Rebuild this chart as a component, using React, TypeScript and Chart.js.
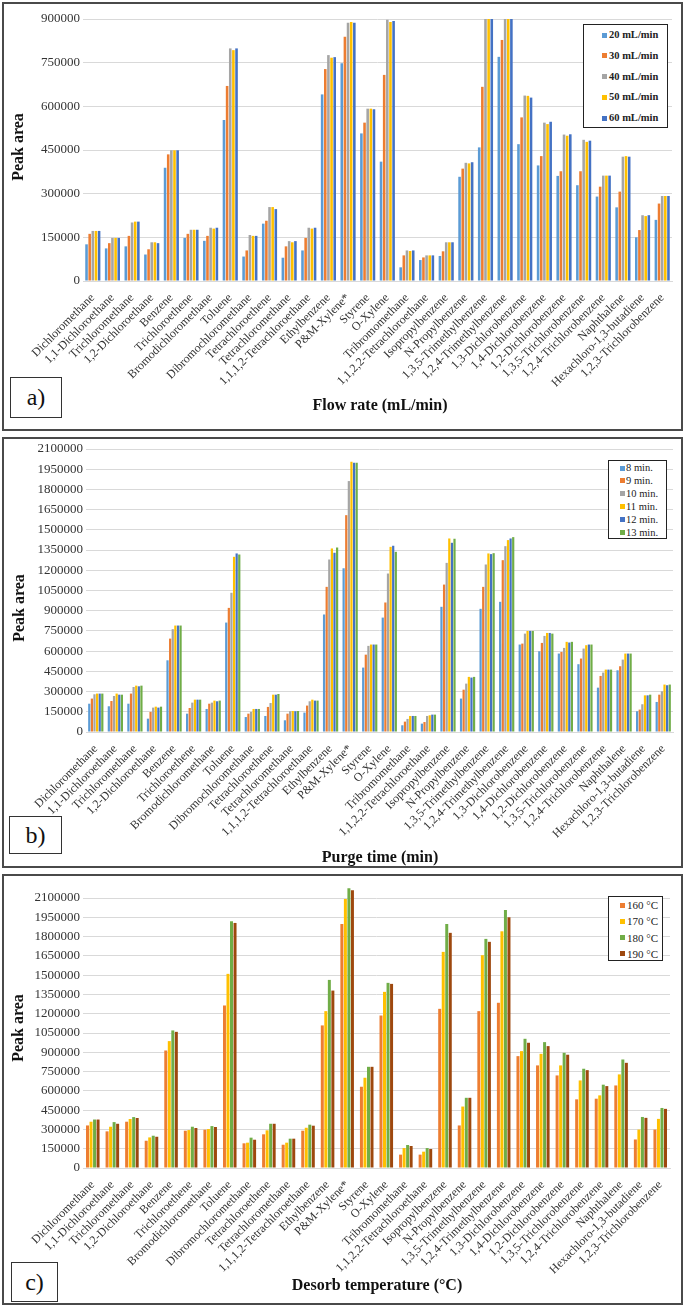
import React, { useEffect, useRef } from 'react';
import { Chart, registerables } from 'chart.js';
Chart.register(...registerables);

const FONT = "'Liberation Serif', 'Times New Roman', serif";

const compounds = [
  'Dichloromethane', '1,1-Dichloroethane', 'Trichloromethane', '1,2-Dichloroethane', 'Benzene',
  'Trichloroethene', 'Bromodichloromethane', 'Toluene', 'Dibromochloromethane', 'Tetrachloroethene',
  'Tetrachloromethane', '1,1,1,2-Tetrachloroethane', 'Ethylbenzene', 'P&M-Xylene*', 'Styrene',
  'O-Xylene', 'Tribromomethane', '1,1,2,2-Tetrachloroethane', 'Isopropylbenzene', 'N-Propylbenzene',
  '1,3,5-Trimethylbenzene', '1,2,4-Trimethylbenzene', '1,3-Dichlorobenzene', '1,4-Dichlorobenzene',
  '1,2-Dichlorobenzene', '1,3,5-Trichlorobenzene', '1,2,4-Trichlorobenzene', 'Naphthalene',
  'Hexachloro-1,3-butadiene', '1,2,3-Trichlorobenzene',
];

// Panel a) flow rate
const flowLabels = ['20 mL/min', '30 mL/min', '40 mL/min', '50 mL/min', '60 mL/min'];
const flow20 = [126000,112000,119000,91000,389000,148000,138000,553000,84000,197000,80000,105000,641000,748000,507000,410000,47000,72000,86000,358000,459000,770000,470000,397000,361000,329000,290000,253000,150000,210000];
const flow30 = [162000,130000,155000,109000,435000,162000,155000,670000,105000,207000,119000,148000,728000,839000,544000,708000,88000,81000,102000,386000,667000,828000,562000,429000,377000,377000,324000,307000,175000,266000];
const flow40 = [172000,148000,201000,133000,449000,176000,183000,799000,158000,254000,137000,183000,776000,887000,592000,897000,105000,88000,133000,406000,900000,900000,637000,544000,503000,485000,362000,427000,226000,292000];
const flow50 = [172000,148000,204000,133000,449000,176000,180000,793000,155000,254000,133000,180000,767000,890000,592000,890000,103000,88000,133000,404000,900000,900000,636000,539000,499000,478000,362000,429000,223000,292000];
const flow60 = [172000,148000,204000,130000,449000,176000,183000,799000,155000,247000,137000,183000,769000,887000,590000,893000,105000,88000,133000,408000,900000,900000,630000,547000,504000,482000,362000,427000,226000,292000];
const flowColors = ['#5B9BD5', '#ED7D31', '#A5A5A5', '#FFC000', '#4472C4'];
const flowTicksMax = 900000;

// Panel b) purge time
const purgeLabels = ['8 min.', '9 min.', '10 min.', '11 min.', '12 min.', '13 min.'];
const purge8 = [210000,191000,210000,99000,532000,136000,171000,812000,111000,119000,87000,144000,872000,1215000,478000,849000,50000,62000,929000,248000,914000,966000,649000,599000,582000,503000,329000,458000,154000,223000];
const purge9 = [248000,230000,285000,149000,693000,178000,210000,921000,136000,186000,136000,196000,1077000,1609000,574000,961000,77000,74000,1094000,314000,1077000,1275000,656000,661000,594000,545000,416000,488000,166000,277000];
const purge10 = [280000,267000,334000,181000,763000,218000,218000,1033000,149000,215000,154000,228000,1280000,1862000,639000,1176000,97000,119000,1255000,359000,1243000,1379000,730000,713000,624000,619000,441000,537000,206000,302000];
const purge11 = [285000,285000,344000,188000,790000,240000,233000,1300000,171000,277000,156000,240000,1362000,2006000,649000,1374000,119000,124000,1436000,409000,1325000,1424000,750000,735000,669000,644000,463000,582000,272000,352000];
const purge12 = [285000,277000,339000,181000,790000,240000,228000,1325000,171000,277000,154000,233000,1330000,1998000,649000,1382000,119000,129000,1404000,404000,1320000,1436000,750000,735000,664000,649000,463000,582000,272000,347000];
const purge13 = [285000,277000,344000,188000,790000,240000,233000,1317000,171000,282000,156000,233000,1369000,1998000,649000,1337000,119000,129000,1434000,409000,1327000,1446000,750000,730000,669000,649000,463000,582000,277000,352000];
const purgeColors = ['#5B9BD5', '#ED7D31', '#A5A5A5', '#FFC000', '#4472C4', '#70AD47'];
const purgeTicksMax = 2100000;

// Panel c) desorb temperature
const tempLabels = ['160 °C', '170 °C', '180 °C', '190 °C'];
const temp160 = [331000,285000,360000,212000,914000,290000,298000,1264000,192000,262000,181000,290000,1109000,1898000,632000,1186000,104000,104000,1238000,331000,1220000,1285000,870000,798000,720000,534000,539000,642000,222000,299000];
const temp170 = [360000,321000,381000,238000,987000,295000,303000,1510000,197000,293000,197000,313000,1220000,2093000,702000,1370000,155000,127000,1681000,478000,1655000,1841000,909000,888000,798000,681000,565000,728000,299000,382000];
const temp180 = [377000,357000,396000,251000,1070000,321000,326000,1919000,236000,344000,228000,337000,1463000,2175000,787000,1440000,179000,155000,1898000,546000,1782000,2007000,1005000,979000,896000,772000,648000,844000,397000,467000];
const temp190 = [377000,344000,389000,243000,1059000,311000,319000,1906000,220000,344000,228000,329000,1380000,2160000,787000,1432000,171000,148000,1829000,546000,1759000,1950000,974000,948000,881000,761000,637000,818000,390000,460000];
const tempColors = ['#ED7D31', '#FFC000', '#70AD47', '#9E480E'];
const tempTicksMax = 2100000;

const tickStep = 150000;

type PanelCfg = {
  top: number; height: number;
  areaTop: number; areaBottom: number; areaLeft: number; areaRight: number;
  ymax: number; labels: string[]; colors: string[]; series: number[][];
  catPct: number; barPct: number; clip: boolean;
};

function ChartPanel({ cfg }: { cfg: PanelCfg }) {
  const ref = useRef<HTMLCanvasElement | null>(null);
  useEffect(() => {
    const canvas = ref.current;
    if (!canvas) return;
    const W = 685;
    const chart = new Chart(canvas, {
      type: 'bar',
      data: {
        labels: compounds,
        datasets: cfg.series.map((s, i) => ({
          label: cfg.labels[i],
          data: s,
          backgroundColor: cfg.colors[i],
          borderWidth: 0,
          categoryPercentage: cfg.catPct,
          barPercentage: cfg.barPct,
          clip: cfg.clip ? undefined : false,
        })) as any,
      },
      options: {
        responsive: false,
        animation: false,
        devicePixelRatio: 1,
        layout: { padding: { top: cfg.areaTop, right: W - cfg.areaRight, left: 0, bottom: 0 } },
        plugins: { legend: { display: false }, tooltip: { enabled: false }, title: { display: false } },
        scales: {
          x: {
            grid: { display: false },
            border: { display: true, color: '#d9d9d9' },
            ticks: {
              autoSkip: false, maxRotation: 45, minRotation: 45, padding: 2,
              font: { family: FONT, size: 12 }, color: '#333',
            },
            afterFit: (s: any) => { s.height = cfg.height - cfg.areaBottom; },
          },
          y: {
            min: 0, max: cfg.ymax,
            grid: { color: '#d9d9d9', drawTicks: false },
            border: { display: false },
            ticks: {
              stepSize: tickStep, padding: 3,
              font: { family: FONT, size: 13 }, color: '#333',
              callback: (v: any) => String(v),
            },
            afterFit: (s: any) => { s.width = cfg.areaLeft; },
          },
        },
      } as any,
    });
    return () => chart.destroy();
  }, [cfg]);
  return (
    <canvas ref={ref} width={685} height={cfg.height}
      style={{ position: 'absolute', left: 0, top: cfg.top, width: 685, height: cfg.height }} />
  );
}

function Legend({ left, top, width, height, firstY, step, swatchX, textX, fontSize, bold, labels, colors }: any) {
  return (
    <div style={{ position: 'absolute', left, top, width, height, border: '1.5px solid #222', boxSizing: 'border-box', background: '#fff' }}>
      {labels.map((l: string, i: number) => (
        <React.Fragment key={l}>
          <div style={{ position: 'absolute', left: swatchX, top: firstY + i * step - 2.5, width: 5, height: 5, background: colors[i] }} />
          <div style={{ position: 'absolute', left: textX, top: firstY + i * step, transform: 'translateY(-50%)', fontSize, fontWeight: bold ? 'bold' : 'normal', fontFamily: FONT, color: '#222', whiteSpace: 'nowrap', lineHeight: 1 }}>{l}</div>
        </React.Fragment>
      ))}
    </div>
  );
}

function Text({ x, y, rot, size, bold, children }: any) {
  return (
    <div style={{ position: 'absolute', left: x, top: y, transform: `translate(-50%,-50%)${rot ? ' rotate(-90deg)' : ''}`, fontFamily: FONT, fontSize: size, fontWeight: bold ? 'bold' : 'normal', whiteSpace: 'nowrap', color: '#111', lineHeight: 1 }}>{children}</div>
  );
}

function Tag({ left, top, width, height, children }: any) {
  return (
    <div style={{ position: 'absolute', left, top, width, height, border: '1.5px solid #333', boxSizing: 'border-box', display: 'flex', alignItems: 'center', justifyContent: 'center', fontFamily: FONT, fontSize: 24, color: '#111', background: '#fff' }}>{children}</div>
  );
}

const cfgA: PanelCfg = { top: 0, height: 435, areaTop: 19, areaBottom: 281, areaLeft: 83, areaRight: 672, ymax: flowTicksMax, labels: flowLabels, colors: flowColors, series: [flow20, flow30, flow40, flow50, flow60], catPct: 0.8, barPct: 0.82, clip: true };
const cfgB: PanelCfg = { top: 435, height: 435, areaTop: 14, areaBottom: 297, areaLeft: 86, areaRight: 673, ymax: purgeTicksMax, labels: purgeLabels, colors: purgeColors, series: [purge8, purge9, purge10, purge11, purge12, purge13], catPct: 0.8, barPct: 0.85, clip: true };
const cfgC: PanelCfg = { top: 870, height: 437, areaTop: 28, areaBottom: 298, areaLeft: 83, areaRight: 670, ymax: tempTicksMax, labels: tempLabels, colors: tempColors, series: [temp160, temp170, temp180, temp190], catPct: 0.72, barPct: 0.85, clip: false };

export default function App() {
  const border = (top: number, height: number) => (
    <div style={{ position: 'absolute', left: 2, top, width: 681, height, border: '2px solid #4a4a4a', boxSizing: 'border-box' }} />
  );
  return (
    <div style={{ position: 'absolute', left: 0, top: 0, width: 685, height: 1307, background: '#fff', overflow: 'hidden' }}>
      {border(2, 429)}
      {border(437, 431)}
      {border(874, 431)}
      <ChartPanel cfg={cfgA} />
      <ChartPanel cfg={cfgB} />
      <ChartPanel cfg={cfgC} />
      <Legend left={583} top={24} width={85} height={104} firstY={10} step={20.8} swatchX={18} textX={25} fontSize={10.5} bold labels={flowLabels} colors={flowColors} />
      <Legend left={608} top={460} width={59} height={79} firstY={7} step={12.9} swatchX={11} textX={17} fontSize={10.5} bold={false} labels={purgeLabels} colors={purgeColors} />
      <Legend left={608} top={896} width={55} height={65} firstY={8} step={16.3} swatchX={11} textX={18} fontSize={11} bold={false} labels={tempLabels} colors={tempColors} />
      <Text x={18} y={147} rot size={16} bold>Peak area</Text>
      <Text x={19} y={608} rot size={16} bold>Peak area</Text>
      <Text x={18} y={1028} rot size={16} bold>Peak area</Text>
      <Text x={380} y={405} size={16} bold>Flow rate (mL/min)</Text>
      <Text x={380} y={857} size={16} bold>Purge time (min)</Text>
      <Text x={377} y={1285} size={16} bold>Desorb temperature (°C)</Text>
      <Tag left={10} top={377} width={52} height={41}>a)</Tag>
      <Tag left={9} top={816} width={53} height={38}>b)</Tag>
      <Tag left={11} top={1262} width={47} height={40}>c)</Tag>
    </div>
  );
}
